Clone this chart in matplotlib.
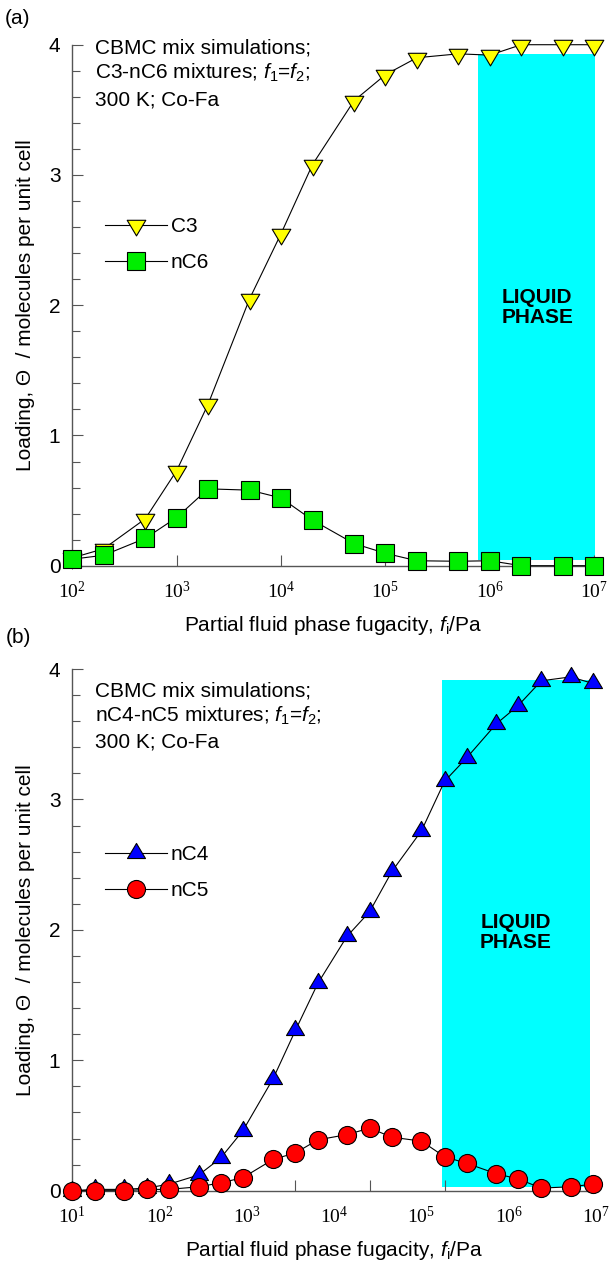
import matplotlib
matplotlib.use('Agg')
import matplotlib.pyplot as plt
from matplotlib.path import Path
from matplotlib.ticker import FixedLocator, MultipleLocator, NullLocator, NullFormatter, FuncFormatter
import numpy as np

plt.rcParams['font.family'] = 'Liberation Sans'
plt.rcParams['font.size'] = 15
plt.rcParams['mathtext.fontset'] = 'custom'
plt.rcParams['mathtext.rm'] = 'Liberation Serif'
plt.rcParams['mathtext.it'] = 'Liberation Sans:italic'
plt.rcParams['mathtext.sf'] = 'Liberation Sans'

########## data
# (a) C3 / nC6, f1 = f2
fug_a = [1e2, 2e2, 5e2, 1e3, 2e3, 5e3, 1e4, 2e4, 5e4, 1e5, 2e5, 5e5, 1e6, 2e6, 5e6, 1e7]
c3 = [0.06, 0.13, 0.36, 0.73, 1.24, 2.05, 2.55, 3.08, 3.57, 3.77, 3.90, 3.93, 3.92, 4.00, 4.00, 4.00]
nc6 = [0.05, 0.08, 0.21, 0.37, 0.59, 0.58, 0.52, 0.35, 0.17, 0.095, 0.038, 0.034, 0.038, 0.0, 0.0, 0.0]
liquid_a = [7.7e5, 1.05e7]
liquid_a_load = [0.04, 3.93]

# (b) nC4 / nC5, f1 = f2
fug_b = [10, 18, 39, 71, 128, 280, 500, 900, 2.0e3, 3.6e3, 6.5e3, 1.4e4, 2.55e4, 4.6e4,
         1.0e5, 1.84e5, 3.3e5, 7.2e5, 1.28e6, 2.36e6, 5.1e6, 9.2e6]
nc4 = [0.0, 0.01, 0.01, 0.02, 0.05, 0.12, 0.25, 0.46, 0.86, 1.23, 1.59, 1.95, 2.14, 2.45,
       2.76, 3.14, 3.32, 3.58, 3.72, 3.91, 3.94, 3.89]
nc5 = [0.0, 0.0, 0.0, 0.01, 0.01, 0.03, 0.06, 0.10, 0.24, 0.29, 0.39, 0.43, 0.48, 0.41,
       0.38, 0.26, 0.21, 0.13, 0.09, 0.02, 0.03, 0.05]
liquid_b = [1.7e5, 8.45e6]
liquid_b_load = [0.03, 3.92]
odd_ticks_b = [3.6e3, 2.55e4, 1.84e5]

# triangles centred on their centroid
tri_down = Path([(-1, 0.56), (1, 0.56), (0, -1.12), (-1, 0.56)],
                [Path.MOVETO, Path.LINETO, Path.LINETO, Path.CLOSEPOLY])
tri_up = Path([(-1, -0.56), (1, -0.56), (0, 1.12), (-1, -0.56)],
              [Path.MOVETO, Path.LINETO, Path.LINETO, Path.CLOSEPOLY])

axcol = '#555555'
fs = 15
fig = plt.figure(figsize=(6.09, 12.63), dpi=100)


def style_axis(ax, xmin):
    ax.set_xscale('log')
    ax.set_xlim(xmin, 1e7)
    ax.set_ylim(0, 4)
    for s in ['top', 'right']:
        ax.spines[s].set_visible(False)
    for s in ['left', 'bottom']:
        ax.spines[s].set_color(axcol)
        ax.spines[s].set_linewidth(1.0)
    ax.yaxis.set_major_locator(MultipleLocator(1))
    ax.yaxis.set_minor_locator(MultipleLocator(0.2))
    ax.xaxis.set_major_locator(FixedLocator([10.0**k for k in range(int(np.log10(xmin)), 8)]))
    ax.xaxis.set_major_formatter(FuncFormatter(lambda v, p: r'$\mathrm{10^{%d}}$' % round(np.log10(v))))
    ax.xaxis.set_minor_locator(NullLocator())
    ax.xaxis.set_minor_formatter(NullFormatter())
    ax.tick_params(axis='both', which='major', direction='in', length=8, width=0.8, color=axcol)
    ax.tick_params(axis='y', which='minor', direction='in', length=5.5, width=0.8, color=axcol)
    ax.tick_params(axis='y', which='major', pad=8.5, labelsize=fs)
    ax.tick_params(axis='x', which='major', pad=11, labelsize=14)
    ax.set_xlabel(r'Partial fluid phase fugacity, $f_{\mathsf{i}}$/Pa', fontsize=fs)
    ax.xaxis.set_label_coords(0.5, -0.092)
    ax.xaxis.label.set_va('top')
    ax.set_ylabel('Loading, Θ  / molecules per unit cell', fontsize=fs)
    ax.yaxis.set_label_coords(-0.072, 0.5)


def liquid_box(ax, xs, ys):
    ax.fill_between(xs, ys[0], ys[1], color='#00ffff', lw=0, zorder=0)
    ax.text(np.sqrt(xs[0] * xs[1]), 1.98, 'LIQUID\nPHASE', ha='center', va='center',
            fontsize=fs, fontweight='bold', linespacing=1.05, zorder=1)


def note(ax, mix, y0, dy):
    lines = ['CBMC mix simulations;',
             mix + r' mixtures; $f_{\mathsf{1}}$=$f_{\mathsf{2}}$;',
             '300 K; Co-Fa']
    for i, t in enumerate(lines):
        ax.text(0.0435, y0 - i * dy, t, transform=ax.transAxes, ha='left', va='baseline', fontsize=fs)


def add_legend(ax, x, y):
    ax.legend(loc='center left', bbox_to_anchor=(x, y), frameon=False, borderpad=0,
              borderaxespad=0, handlelength=2.98, handletextpad=0.18, labelspacing=0.81,
              numpoints=1, fontsize=fs)


mk = dict(mec='black', mew=0.8, lw=0.8, color='black', clip_on=False, zorder=3)

########## (a)
ax1 = fig.add_axes([0.1187, 0.5521, 0.8571, 0.4125])
style_axis(ax1, 1e2)
liquid_box(ax1, liquid_a, liquid_a_load)
ax1.plot(fug_a, c3, marker=tri_down, ms=15, mfc='#ffff00', label='C3', **mk)
ax1.plot(fug_a, nc6, marker='s', ms=13, mfc='#00ee00', label='nC6', **mk)
note(ax1, 'C3-nC6', 0.984, 0.0499)
add_legend(ax1, 0.0626, 0.6165)

########## (b)
ax2 = fig.add_axes([0.1187, 0.05725, 0.8601, 0.413])
style_axis(ax2, 1e1)
ax2.tick_params(axis='x', which='major', length=0)
ax2.xaxis.set_minor_locator(FixedLocator(odd_ticks_b))
ax2.tick_params(axis='x', which='minor', direction='in', length=8, width=0.8, color=axcol)
liquid_box(ax2, liquid_b, liquid_b_load)
ax2.plot(fug_b, nc4, marker=tri_up, ms=14.5, mfc='#0000ff', label='nC4', **mk)
ax2.plot(fug_b, nc5, marker='o', ms=13, mfc='#ff0000', label='nC5', **mk)
note(ax2, 'nC4-nC5', 0.948, 0.0487)
add_legend(ax2, 0.0624, 0.610)

fig.text(18 / 609, 1 - 18 / 1263, '(a)', ha='center', va='center', fontsize=fs)
fig.text(18 / 609, 1 - 637 / 1263, '(b)', ha='center', va='center', fontsize=fs)

plt.savefig('out.png', dpi=100)
